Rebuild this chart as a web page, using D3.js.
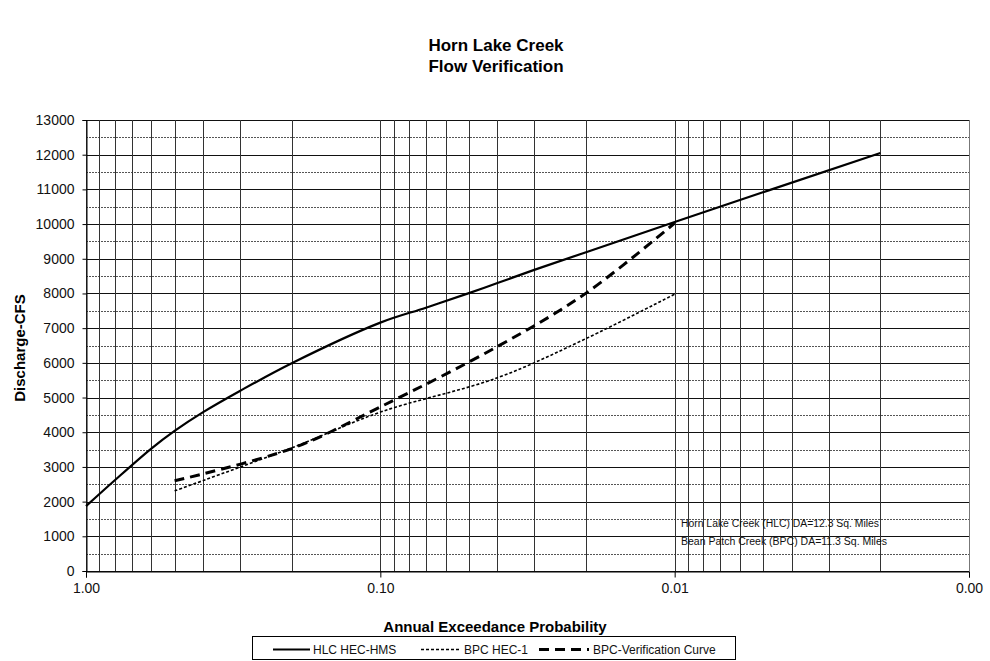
<!DOCTYPE html>
<html>
<head>
<meta charset="utf-8">
<script src="https://cdn.jsdelivr.net/npm/d3@7"></script>
<style>
  html, body { margin: 0; padding: 0; background: #fff; }
  svg { display: block; }
</style>
</head>
<body>
<svg id="chart" width="990" height="661"></svg>
<script>
// Annual exceedance probabilities and discharges (cfs)
const hlcProb = [1.0, 0.8, 0.6, 0.5, 0.4, 0.3, 0.2, 0.1, 0.07, 0.05, 0.04, 0.03, 0.02, 0.01, 0.002];
const hlcFlow = [1870, 2610, 3530, 4040, 4580, 5190, 5990, 7160, 7590, 8010, 8300, 8680, 9190, 10060, 12050];

const hec1Prob = [0.5, 0.2, 0.1, 0.04, 0.02, 0.01];
const hec1Flow = [2310, 3550, 4580, 5570, 6700, 7980];

const verProb = [0.5, 0.2, 0.1, 0.04, 0.02, 0.01];
const verFlow = [2600, 3530, 4730, 6470, 8010, 10030];

const xTickValues = [1, 0.1, 0.01, 0.001];
const yTickValues = d3.range(0, 13001, 1000);
const yMinorValues = d3.range(500, 13000, 1000);

const seriesNames = ["HLC HEC-HMS", "BPC HEC-1", "BPC-Verification Curve"];
const titleLines = ["Horn Lake Creek", "Flow Verification"];
const notes = ["Horn Lake Creek (HLC) DA=12.3 Sq. Miles", "Bean Patch Creek (BPC) DA=11.3  Sq. Miles"];

const svg = d3.select("#chart");
const plotLeft = 86, plotRight = 969, plotTop = 120, plotBottom = 571;

const x = d3.scaleLog().domain([1, 0.001]).range([plotLeft, plotRight]);
const y = d3.scaleLinear().domain([0, 13000]).range([plotBottom, plotTop]);

const font = "Liberation Sans, Arial, sans-serif";

// Title
svg.append("g").selectAll("text").data(titleLines).join("text")
  .attr("x", 496).attr("y", (d, i) => 51 + i * 21)
  .attr("text-anchor", "middle")
  .attr("font-family", font).attr("font-weight", "bold").attr("font-size", 17)
  .text(d => d);

// Gridlines
const grid = svg.append("g");
const vLines = [];
[1, 0.1, 0.01].forEach(d => { for (let k = 10; k >= 1; k--) vLines.push(d * k / 10); });
grid.selectAll("line.minor").data(yMinorValues).join("line")
  .attr("x1", plotLeft).attr("x2", plotRight)
  .attr("y1", d => Math.round(y(d)) + 0.5).attr("y2", d => Math.round(y(d)) + 0.5)
  .attr("stroke", "#555").attr("stroke-width", 1).attr("stroke-dasharray", "2,1");
grid.selectAll("line.major").data(yTickValues).join("line")
  .attr("x1", plotLeft).attr("x2", plotRight)
  .attr("y1", d => Math.round(y(d)) + 0.5).attr("y2", d => Math.round(y(d)) + 0.5)
  .attr("stroke", "#111").attr("stroke-width", 1);
grid.selectAll("line.v").data(vLines).join("line")
  .attr("x1", d => Math.round(x(d)) + 0.5).attr("x2", d => Math.round(x(d)) + 0.5)
  .attr("y1", plotTop).attr("y2", plotBottom)
  .attr("stroke", "#333").attr("stroke-width", 1);
// Right border
svg.append("line")
  .attr("x1", Math.round(x(0.001)) + 0.5).attr("x2", Math.round(x(0.001)) + 0.5)
  .attr("y1", plotTop).attr("y2", plotBottom).attr("stroke", "#777");

// Axes
const xAxis = d3.axisBottom(x).tickValues(xTickValues).tickFormat(d3.format(".2f")).tickSize(6).tickPadding(6);
const gx = svg.append("g").attr("transform", `translate(0,${Math.round(plotBottom) + 0.5})`).call(xAxis);
gx.select(".domain").attr("stroke", "#000");
gx.selectAll("text").attr("font-family", font).attr("font-size", 14).attr("fill", "#111");

const yAxis = d3.axisLeft(y).tickValues(yTickValues).tickFormat(d3.format("d")).tickSize(4).tickPadding(8);
const gy = svg.append("g").attr("transform", `translate(${plotLeft + 0.5},0)`).call(yAxis);
gy.select(".domain").attr("stroke", "#000");
gy.selectAll("text").attr("font-family", font).attr("font-size", 14).attr("fill", "#111");

// Axis titles
svg.append("text").attr("x", 495).attr("y", 632).attr("text-anchor", "middle")
  .attr("font-family", font).attr("font-weight", "bold").attr("font-size", 15)
  .text("Annual Exceedance Probability");
svg.append("text").attr("transform", "translate(25,348) rotate(-90)").attr("text-anchor", "middle")
  .attr("font-family", font).attr("font-weight", "bold").attr("font-size", 15)
  .text("Discharge-CFS");

// Series
const styles = [
  { width: 2.2, dash: null },
  { width: 1.6, dash: "3,2" },
  { width: 3, dash: "10,6" }
];
const series = [
  d3.zip(hlcProb, hlcFlow),
  d3.zip(hec1Prob, hec1Flow),
  d3.zip(verProb, verFlow)
];
const line = d3.line().x(d => x(d[0])).y(d => y(d[1])).curve(d3.curveCatmullRom.alpha(0.5));
svg.append("g").selectAll("path").data(series).join("path")
  .attr("d", line)
  .attr("fill", "none").attr("stroke", "#000")
  .attr("stroke-width", (d, i) => styles[i].width)
  .attr("stroke-dasharray", (d, i) => styles[i].dash);

// Drainage area notes
svg.append("g").selectAll("text").data(notes).join("text")
  .attr("x", 681).attr("y", (d, i) => 527 + i * 18)
  .attr("font-family", "Liberation Sans Narrow, Arial Narrow, sans-serif").attr("font-size", 10)
  .attr("textLength", (d, i) => [198, 206][i]).attr("lengthAdjust", "spacingAndGlyphs")
  .attr("fill", "#111")
  .text(d => d);

// Legend
const lg = svg.append("g");
lg.append("rect").attr("x", 252.5).attr("y", 636.5).attr("width", 483).attr("height", 23)
  .attr("fill", "#fff").attr("stroke", "#000");
const legendItems = [
  { x0: 273, x1: 310, tx: 313 },
  { x0: 421, x1: 460, tx: 464 },
  { x0: 539, x1: 589, tx: 593 }
];
legendItems.forEach((it, i) => {
  lg.append("line").attr("x1", it.x0).attr("x2", it.x1).attr("y1", 649.5).attr("y2", 649.5)
    .attr("stroke", "#000").attr("stroke-width", styles[i].width)
    .attr("stroke-dasharray", styles[i].dash);
  lg.append("text").attr("x", it.tx).attr("y", 654)
    .attr("font-family", font).attr("font-size", 12).attr("fill", "#111")
    .text(seriesNames[i]);
});
</script>
</body>
</html>
